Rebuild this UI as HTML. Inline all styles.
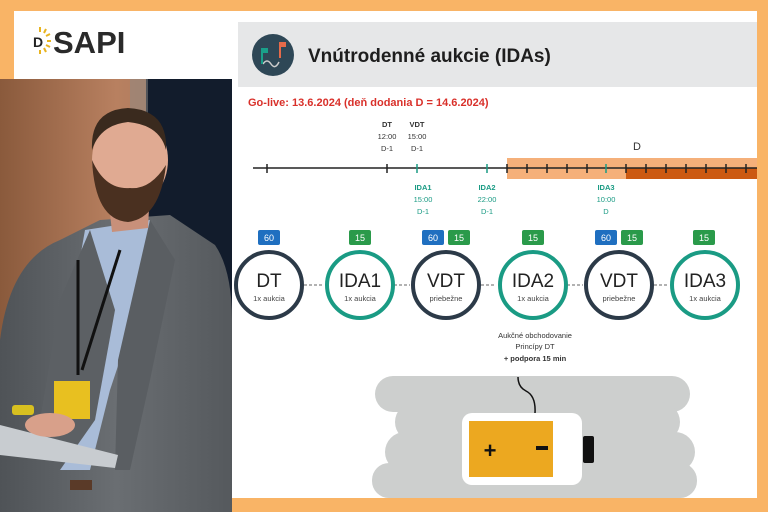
<!DOCTYPE html>
<html><head><meta charset="utf-8"><style>
body{margin:0;width:768px;height:512px;overflow:hidden;background:#f9b466;font-family:"Liberation Sans",sans-serif}
</style></head><body>
<svg width="768" height="512" viewBox="0 0 768 512" xmlns="http://www.w3.org/2000/svg" style="position:absolute;left:0;top:0">
<defs>
<linearGradient id="bg" x1="0" x2="1"><stop offset="0" stop-color="#8a5a3c"/><stop offset="0.5" stop-color="#b88060"/><stop offset="0.8" stop-color="#a87a60"/><stop offset="1" stop-color="#7a6a62"/></linearGradient>
<linearGradient id="suit" x1="0" x2="1"><stop offset="0" stop-color="#4f5357"/><stop offset="0.5" stop-color="#6a6e72"/><stop offset="1" stop-color="#55595d"/></linearGradient>
</defs>
<rect width="768" height="512" fill="#f9b466"/>
<!-- logo box -->
<rect x="14" y="11" width="226" height="68" fill="#fff"/>
<g stroke="#e8b420" stroke-width="2">
<line x1="40" y1="27" x2="40" y2="32"/><line x1="46" y1="29" x2="44" y2="33"/><line x1="50" y1="34" x2="46" y2="36"/><line x1="51" y1="41" x2="47" y2="41"/><line x1="50" y1="47" x2="46" y2="45"/><line x1="46" y1="52" x2="44" y2="48"/><line x1="40" y1="54" x2="40" y2="50"/>
</g>
<text x="33" y="47" font-size="14" font-weight="bold" fill="#222">D</text>
<text x="53" y="53" font-size="31" font-weight="bold" fill="#2a2a2a">SAPI</text>
<!-- photo -->
<rect x="0" y="79" width="232" height="433" fill="url(#bg)"/>
<rect x="146" y="79" width="86" height="433" fill="#121c2c"/>
<rect x="130" y="79" width="18" height="433" fill="#8e8a86" opacity="0.5"/>
<!-- body -->
<path d="M0 340 Q10 260 60 240 L100 220 L170 215 L215 245 Q232 270 232 320 L232 512 L0 512 Z" fill="url(#suit)"/>
<path d="M85 230 L150 220 L140 300 L110 390 L90 470 L60 470 L62 360 Z" fill="#a9bcd8"/>
<path d="M90 230 L115 310 L95 420 L60 470 L40 420 L60 300 Z" fill="#5c6064"/>
<path d="M150 220 L175 260 L150 380 L130 470 L115 470 L118 360 Z" fill="#5a5e62"/>
<rect x="54" y="381" width="36" height="38" fill="#e8c020"/>
<line x1="78" y1="260" x2="78" y2="375" stroke="#111" stroke-width="3"/>
<line x1="120" y1="250" x2="82" y2="370" stroke="#111" stroke-width="3"/>
<!-- neck & head -->
<path d="M108 195 L150 190 L148 228 L112 232 Z" fill="#c8907a"/>
<ellipse cx="130" cy="160" rx="38" ry="46" fill="#e0aa92"/>
<path d="M92 160 Q95 220 128 222 Q160 218 166 165 Q150 190 130 188 Q105 190 92 160Z" fill="#4a3020"/>
<path d="M92 150 Q90 110 128 108 Q168 110 166 150 Q160 125 128 122 Q100 125 92 150Z" fill="#3a2a1e"/>
<!-- lectern & hands -->
<path d="M0 425 L118 455 L115 468 L0 455 Z" fill="#c8ccd0"/>
<ellipse cx="50" cy="425" rx="25" ry="12" fill="#d8a08a"/>
<rect x="12" y="405" width="22" height="10" rx="3" fill="#d8c020"/>
<rect x="70" y="480" width="22" height="10" fill="#5a3a28"/>
<!-- slide -->
<rect x="232" y="11" width="525" height="487" fill="#fff"/>
<rect x="238" y="22" width="519" height="65" fill="#e6e7e8"/>
<circle cx="273" cy="55" r="21" fill="#2e4756"/>
<path d="M263 64 q4 -6 8 0 q4 6 8 -2" stroke="#ccc" stroke-width="1.5" fill="none"/>
<rect x="262" y="48" width="6" height="5" fill="#1aa08a"/><line x1="262" y1="48" x2="262" y2="64" stroke="#1aa08a" stroke-width="2"/>
<rect x="280" y="42" width="6" height="5" fill="#e56a4a"/><line x1="280" y1="42" x2="280" y2="58" stroke="#e56a4a" stroke-width="2"/>
<text x="308" y="62" font-size="19" font-weight="bold" fill="#1e1e1e">Vnútrodenné aukcie (IDAs)</text>
<text x="248" y="106" font-size="11" font-weight="bold" fill="#d9302a">Go-live: 13.6.2024 (deň dodania D = 14.6.2024)</text>
<!-- timeline -->
<rect x="507" y="158" width="250" height="21" fill="#f5b07a"/>
<rect x="626" y="168" width="131" height="11" fill="#cc5a12"/>
<line x1="253" y1="168" x2="757" y2="168" stroke="#222" stroke-width="1.5"/>
<g stroke="#222" stroke-width="1.5">
<line x1="267" y1="164" x2="267" y2="173"/><line x1="387" y1="164" x2="387" y2="173"/>
<line x1="507" y1="164" x2="507" y2="173"/><line x1="527" y1="164" x2="527" y2="173"/><line x1="547" y1="164" x2="547" y2="173"/><line x1="567" y1="164" x2="567" y2="173"/><line x1="587" y1="164" x2="587" y2="173"/>
<line x1="626" y1="164" x2="626" y2="173"/><line x1="646" y1="164" x2="646" y2="173"/><line x1="666" y1="164" x2="666" y2="173"/><line x1="686" y1="164" x2="686" y2="173"/><line x1="706" y1="164" x2="706" y2="173"/><line x1="726" y1="164" x2="726" y2="173"/><line x1="746" y1="164" x2="746" y2="173"/>
</g>
<g stroke="#1a9b84" stroke-width="1.5">
<line x1="417" y1="164" x2="417" y2="173"/><line x1="487" y1="164" x2="487" y2="173"/><line x1="606" y1="164" x2="606" y2="173"/>
</g>
<g font-size="7.5" text-anchor="middle" fill="#333">
<text x="387" y="127" font-weight="bold">DT</text><text x="387" y="139">12:00</text><text x="387" y="151">D-1</text>
<text x="417" y="127" font-weight="bold">VDT</text><text x="417" y="139">15:00</text><text x="417" y="151">D-1</text>
</g>
<text x="637" y="150" font-size="11" fill="#333" text-anchor="middle">D</text>
<g font-size="7.5" text-anchor="middle" fill="#1a9b84">
<text x="423" y="190" font-weight="bold">IDA1</text><text x="423" y="202">15:00</text><text x="423" y="214">D-1</text>
<text x="487" y="190" font-weight="bold">IDA2</text><text x="487" y="202">22:00</text><text x="487" y="214">D-1</text>
<text x="606" y="190" font-weight="bold">IDA3</text><text x="606" y="202">10:00</text><text x="606" y="214">D</text>
</g>
<!-- badges -->
<g font-size="9" fill="#fff" text-anchor="middle">
<rect x="258" y="230" width="22" height="15" rx="2" fill="#1f6fc0"/><text x="269" y="241">60</text>
<rect x="349" y="230" width="22" height="15" rx="2" fill="#2a9a4a"/><text x="360" y="241">15</text>
<rect x="422" y="230" width="22" height="15" rx="2" fill="#1f6fc0"/><text x="433" y="241">60</text>
<rect x="448" y="230" width="22" height="15" rx="2" fill="#2a9a4a"/><text x="459" y="241">15</text>
<rect x="522" y="230" width="22" height="15" rx="2" fill="#2a9a4a"/><text x="533" y="241">15</text>
<rect x="595" y="230" width="22" height="15" rx="2" fill="#1f6fc0"/><text x="606" y="241">60</text>
<rect x="621" y="230" width="22" height="15" rx="2" fill="#2a9a4a"/><text x="632" y="241">15</text>
<rect x="693" y="230" width="22" height="15" rx="2" fill="#2a9a4a"/><text x="704" y="241">15</text>
</g>
<!-- arrows -->
<g stroke="#999" stroke-width="1.5" stroke-dasharray="3,2">
<line x1="304" y1="285" x2="323" y2="285"/><line x1="394" y1="285" x2="410" y2="285"/><line x1="481" y1="285" x2="496" y2="285"/><line x1="567" y1="285" x2="583" y2="285"/><line x1="654" y1="285" x2="669" y2="285"/>
</g>
<!-- circles -->
<g stroke-width="4" fill="#fff">
<circle cx="269" cy="285" r="33" stroke="#2c3a48"/>
<circle cx="360" cy="285" r="33" stroke="#1a9b84"/>
<circle cx="446" cy="285" r="33" stroke="#2c3a48"/>
<circle cx="533" cy="285" r="33" stroke="#1a9b84"/>
<circle cx="619" cy="285" r="33" stroke="#2c3a48"/>
<circle cx="705" cy="285" r="33" stroke="#1a9b84"/>
</g>
<g text-anchor="middle" fill="#222">
<g font-size="19"><text x="269" y="287">DT</text><text x="360" y="287">IDA1</text><text x="446" y="287">VDT</text><text x="533" y="287">IDA2</text><text x="619" y="287">VDT</text><text x="705" y="287">IDA3</text></g>
<g font-size="7.5" fill="#444"><text x="269" y="301">1x aukcia</text><text x="360" y="301">1x aukcia</text><text x="446" y="301">priebežne</text><text x="533" y="301">1x aukcia</text><text x="619" y="301">priebežne</text><text x="705" y="301">1x aukcia</text></g>
<g font-size="7.5" fill="#333"><text x="535" y="338">Aukčné obchodovanie</text><text x="535" y="349">Princípy DT</text><text x="535" y="361" font-weight="bold">+ podpora 15 min</text></g>
</g>
<!-- battery clouds -->
<g fill="#cdcfce">
<rect x="375" y="376" width="315" height="36" rx="18"/>
<rect x="395" y="402" width="285" height="40" rx="20"/>
<rect x="385" y="432" width="310" height="40" rx="20"/>
<rect x="372" y="463" width="325" height="35" rx="17"/>
</g>
<path d="M518 377 q0 10 8 14 q10 5 9 22" stroke="#111" stroke-width="1.5" fill="none"/>
<rect x="462" y="413" width="120" height="72" rx="10" fill="#fff"/>
<rect x="469" y="421" width="84" height="56" fill="#eca820"/>
<rect x="583" y="436" width="11" height="27" rx="2" fill="#111"/>
<text x="490" y="458" font-size="22" font-weight="bold" fill="#111" text-anchor="middle">+</text>
<rect x="536" y="446" width="12" height="4" fill="#111"/>
</svg>
</body></html>
